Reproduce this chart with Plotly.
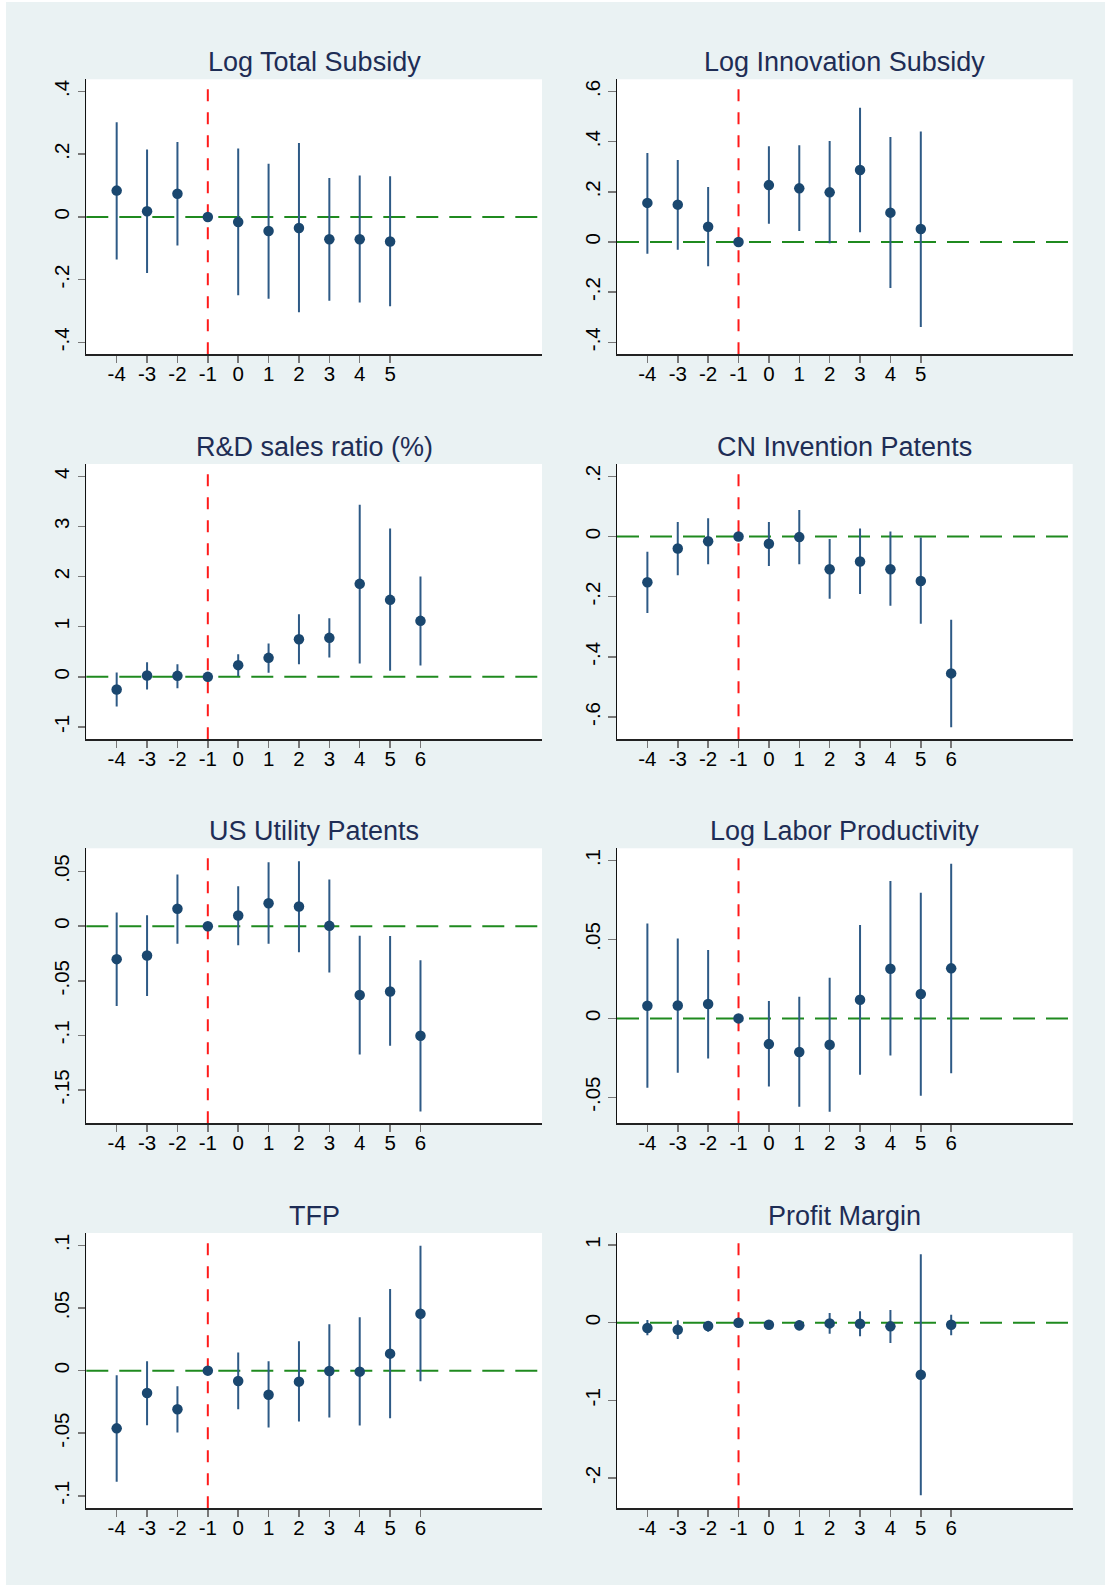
import plotly.graph_objects as go

# ---------------- data ----------------
periods_a = [-4, -3, -2, -1, 0, 1, 2, 3, 4, 5]
periods_b = [-4, -3, -2, -1, 0, 1, 2, 3, 4, 5, 6]

titles = ["Log Total Subsidy", "Log Innovation Subsidy", "R&D sales ratio (%)",
          "CN Invention Patents", "US Utility Patents", "Log Labor Productivity",
          "TFP", "Profit Margin"]

tot_sub_coef = [0.084, 0.018, 0.074, 0, -0.016, -0.045, -0.035, -0.071, -0.071, -0.078]
tot_sub_lo = [-0.136, -0.179, -0.091, 0, -0.250, -0.261, -0.304, -0.267, -0.273, -0.285]
tot_sub_hi = [0.302, 0.215, 0.239, 0, 0.218, 0.170, 0.236, 0.124, 0.132, 0.130]

inn_sub_coef = [0.156, 0.149, 0.061, 0, 0.227, 0.214, 0.198, 0.287, 0.117, 0.052]
inn_sub_lo = [-0.047, -0.031, -0.097, 0, 0.073, 0.044, -0.005, 0.039, -0.184, -0.339]
inn_sub_hi = [0.355, 0.327, 0.219, 0, 0.382, 0.386, 0.403, 0.536, 0.419, 0.441]

rd_coef = [-0.253, 0.027, 0.020, 0, 0.233, 0.379, 0.751, 0.778, 1.855, 1.536, 1.117]
rd_lo = [-0.592, -0.253, -0.226, 0, 0.013, 0.080, 0.253, 0.386, 0.266, 0.120, 0.226]
rd_hi = [0.086, 0.293, 0.253, 0, 0.452, 0.665, 1.250, 1.170, 3.431, 2.959, 2.001]

cn_coef = [-0.152, -0.040, -0.016, 0, -0.024, -0.002, -0.109, -0.083, -0.109, -0.148, -0.455]
cn_lo = [-0.254, -0.129, -0.092, 0, -0.098, -0.092, -0.207, -0.191, -0.230, -0.290, -0.634]
cn_hi = [-0.051, 0.048, 0.061, 0, 0.048, 0.088, -0.008, 0.027, 0.017, -0.003, -0.277]

us_coef = [-0.0302, -0.0268, 0.0159, 0, 0.0098, 0.0210, 0.0180, 0.0003, -0.0631, -0.0598, -0.1003]
us_lo = [-0.0732, -0.0640, -0.0162, 0, -0.0174, -0.0162, -0.0238, -0.0424, -0.1174, -0.1095, -0.1698]
us_hi = [0.0125, 0.0101, 0.0473, 0, 0.0366, 0.0585, 0.0595, 0.0427, -0.0088, -0.0091, -0.0311]

lp_coef = [0.0080, 0.0082, 0.0091, 0, -0.0163, -0.0213, -0.0167, 0.0118, 0.0315, 0.0154, 0.0317]
lp_lo = [-0.0439, -0.0344, -0.0254, 0, -0.0431, -0.0560, -0.0592, -0.0357, -0.0235, -0.0490, -0.0347]
lp_hi = [0.0602, 0.0507, 0.0433, 0, 0.0110, 0.0137, 0.0258, 0.0592, 0.0870, 0.0797, 0.0980]

tfp_coef = [-0.0461, -0.0178, -0.0309, 0, -0.0083, -0.0192, -0.0088, -0.0003, -0.0008, 0.0136, 0.0455]
tfp_lo = [-0.0887, -0.0437, -0.0495, 0, -0.0309, -0.0455, -0.0407, -0.0375, -0.0439, -0.0381, -0.0085]
tfp_hi = [-0.0037, 0.0075, -0.0125, 0, 0.0146, 0.0075, 0.0234, 0.0370, 0.0426, 0.0652, 0.0999]

pm_coef = [-0.069, -0.090, -0.043, 0, -0.026, -0.034, -0.009, -0.013, -0.047, -0.670, -0.026]
pm_lo = [-0.163, -0.210, -0.116, 0, -0.060, -0.099, -0.142, -0.176, -0.262, -2.223, -0.163]
pm_hi = [0.034, 0.030, 0.017, 0, 0.000, 0.030, 0.124, 0.146, 0.163, 0.880, 0.103]

ytick_vals = [
    [-0.4, -0.2, 0, 0.2, 0.4],
    [-0.4, -0.2, 0, 0.2, 0.4, 0.6],
    [-1, 0, 1, 2, 3, 4],
    [-0.6, -0.4, -0.2, 0, 0.2],
    [-0.15, -0.1, -0.05, 0, 0.05],
    [-0.05, 0, 0.05, 0.1],
    [-0.1, -0.05, 0, 0.05, 0.1],
    [-2, -1, 0, 1],
]
ytick_text = [
    ["-.4", "-.2", "0", ".2", ".4"],
    ["-.4", "-.2", "0", ".2", ".4", ".6"],
    ["-1", "0", "1", "2", "3", "4"],
    ["-.6", "-.4", "-.2", "0", ".2"],
    ["-.15", "-.1", "-.05", "0", ".05"],
    ["-.05", "0", ".05", ".1"],
    ["-.1", "-.05", "0", ".05", ".1"],
    ["-2", "-1", "0", "1"],
]

panels = [
    (periods_a, tot_sub_coef, tot_sub_lo, tot_sub_hi),
    (periods_a, inn_sub_coef, inn_sub_lo, inn_sub_hi),
    (periods_b, rd_coef, rd_lo, rd_hi),
    (periods_b, cn_coef, cn_lo, cn_hi),
    (periods_b, us_coef, us_lo, us_hi),
    (periods_b, lp_coef, lp_lo, lp_hi),
    (periods_b, tfp_coef, tfp_lo, tfp_hi),
    (periods_b, pm_coef, pm_lo, pm_hi),
]

# ---------------- layout settings ----------------
W, H = 1105, 1585
y_ranges = [
    [-0.438, 0.439], [-0.448, 0.649], [-1.246, 4.246], [-0.674, 0.241],
    [-0.1805, 0.0713], [-0.0665, 0.1078], [-0.110, 0.110], [-2.39, 1.155],
]
x_range = [-5, 10]
col_px = [(86.3, 542.0), (617.0, 1072.7)]
row_px = [(79.3, 354.3), (464.0, 739.3), (848.3, 1123.3), (1233.0, 1508.3)]

BG = "#EAF2F3"
NAVY = "#1A476F"
BAR = "#2E5A86"
TITLE_C = "#1E2D55"
FONT = "Liberation Sans, Arial, Helvetica, sans-serif"
TICK_SIZE = 20.5

fig = go.Figure()
layout = dict(
    width=W, height=H,
    margin=dict(l=0, r=0, t=0, b=0),
    paper_bgcolor=BG, plot_bgcolor="white",
    showlegend=False,
    font=dict(family=FONT, color="black"),
)
shapes = [
    dict(type="rect", xref="paper", yref="paper", x0=0, x1=6 / W, y0=0, y1=1,
         fillcolor="white", line=dict(width=0), layer="below"),
    dict(type="rect", xref="paper", yref="paper", x0=0, x1=1, y0=1 - 2 / H, y1=1,
         fillcolor="white", line=dict(width=0), layer="below"),
]
annotations = []

for i, (px, coef, lo, hi) in enumerate(panels):
    r, c = divmod(i, 2)
    n = i + 1
    xa = "x" if n == 1 else f"x{n}"
    ya = "y" if n == 1 else f"y{n}"
    x0p, x1p = col_px[c]
    top, bot = row_px[r]
    xdom = [x0p / W, x1p / W]
    ydom = [1 - bot / H, 1 - top / H]

    fig.add_trace(go.Scatter(
        x=px, y=coef, mode="markers", xaxis=xa, yaxis=ya,
        marker=dict(color=NAVY, size=10.5, line=dict(width=0)),
        error_y=dict(type="data", symmetric=False,
                     array=[h - v for h, v in zip(hi, coef)],
                     arrayminus=[v - l for v, l in zip(coef, lo)],
                     width=0, thickness=2, color=BAR),
        hoverinfo="skip",
    ))

    layout["xaxis" if n == 1 else f"xaxis{n}"] = dict(
        domain=xdom, anchor=ya, range=x_range,
        tickmode="array", tickvals=px, ticktext=[str(v) for v in px],
        ticks="outside", ticklen=7, tickwidth=1.5, tickcolor="#777777",
        showline=True, linecolor="#222222", linewidth=1.3,
        showgrid=False, zeroline=False,
        tickfont=dict(size=TICK_SIZE, color="black", family=FONT),
        ticklabelstandoff=-6, fixedrange=True,
    )
    layout["yaxis" if n == 1 else f"yaxis{n}"] = dict(
        domain=ydom, anchor=xa, range=y_ranges[i],
        tickmode="array", tickvals=ytick_vals[i], ticktext=ytick_text[i],
        ticks="outside", ticklen=7.5, tickwidth=1.5, tickcolor="#777777",
        showline=True, linecolor="#111111", linewidth=1.3,
        showgrid=False, zeroline=False, tickangle=-90,
        tickfont=dict(size=TICK_SIZE, color="black", family=FONT),
        ticklabelstandoff=0, fixedrange=True,
    )

    # zero reference line (green dashed)
    shapes.append(dict(type="line", xref=f"{xa} domain", yref=ya,
                       x0=0, x1=1, y0=0, y1=0,
                       line=dict(color="#1F8A1F", width=2, dash="22px,11px"),
                       layer="below"))
    # event line at -1 (red dashed)
    shapes.append(dict(type="line", xref=xa, yref=f"{ya} domain",
                       x0=-1, x1=-1, y0=0, y1=1,
                       line=dict(color="#FF1A1A", width=2, dash="12px,11px"),
                       layer="below"))

    annotations.append(dict(
        text=titles[i], xref="paper", yref="paper",
        x=(xdom[0] + xdom[1]) / 2, y=ydom[1] + 0.5 / H,
        xanchor="center", yanchor="bottom", showarrow=False,
        font=dict(size=27, color=TITLE_C, family=FONT),
    ))

layout["shapes"] = shapes
layout["annotations"] = annotations
fig.update_layout(**layout)

fig.write_html(
    "out.html",
    config={"displayModeBar": False, "staticPlot": True},
    post_script="document.body.style.margin='0';document.body.style.overflow='hidden';"
                "document.documentElement.style.overflow='hidden';",
)
